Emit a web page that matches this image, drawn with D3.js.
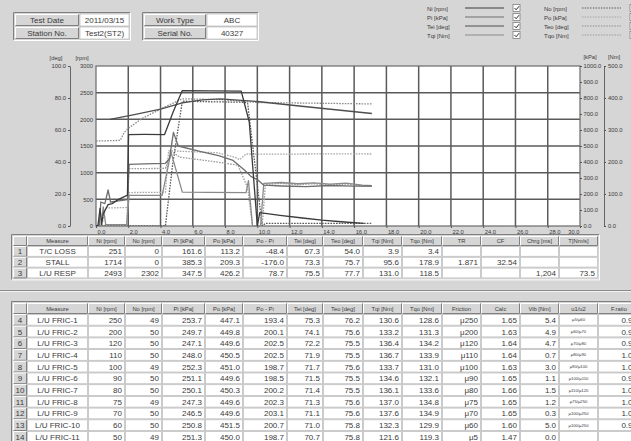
<!DOCTYPE html>
<html><head><meta charset="utf-8">
<script src="https://cdn.jsdelivr.net/npm/d3@7"></script>
<style>
html,body{margin:0;padding:0;background:#d6d6d6;overflow:hidden;}
svg{display:block;font-family:"Liberation Sans",Arial,sans-serif;}
</style></head><body>
<svg id="c" width="631" height="441"></svg>
<script>
// ---------- test information ----------
const infoLabelsA = ["Test Date", "Station No."];
const infoValuesA = ["2011/03/15", "Test2(ST2)"];
const infoLabelsB = ["Work Type", "Serial No."];
const infoValuesB = ["ABC", "40327"];

// ---------- legend ----------
const legendSolid = ["Ni [rpm]", "Pi [kPa]", "Tei [deg]", "Tqi [Nm]"];
const legendDotted = ["No [rpm]", "Po [kPa]", "Teo [deg]", "Tqo [Nm]"];

// ---------- axis ticks ----------
const timeTicks = d3.range(0, 31, 2);
const rpmTicks = [0, 500, 1000, 1500, 2000, 2500, 3000];
const degTicks = [0, 20, 40, 60, 80, 100];
const kpaTicks = [0, 100, 200, 300, 400, 500, 600, 700, 800, 900, 1000];
const nmTicks = [0, 100, 200, 300, 400, 500];

// ---------- recorded traces (time in sec) ----------
const niTime = [0, 0.12, 0.25, 0.35, 0.45, 0.75, 1.0, 1.4, 1.95, 2.02, 3.0, 4.25, 4.8, 5.35, 7.0, 9.0, 9.5, 10.0, 10.15, 11.4, 12.8, 14.0, 15.2, 16.6];
const niRpm  = [0, 0, 330, 30, 230, 400, 420, 500, 580, 1715, 1718, 1714, 2150, 2540, 2535, 2530, 1950, 0, 250, 200, 150, 110, 80, 50];

const noTime = [0, 4.3, 4.75, 5.35, 7.0, 9.2, 9.4, 10.3, 10.5, 17.1];
const noRpm  = [0, 0, 1150, 2340, 2330, 2320, 2300, 0, 50, 50];

const teiTime = [0.87, 2.3, 4.0, 5.35, 6.6, 7.7, 10.0, 12.6, 17.1];
const teiDeg  = [66.6, 69.4, 73.1, 76.9, 78.8, 79.4, 77.8, 75.0, 70.3];

const teoTime = [0, 1.5, 1.75, 2.0, 2.9, 4.4, 5.35, 7.7, 10.0, 17.1];
const teoDeg  = [53.1, 53.5, 58.5, 61.0, 67.5, 75.0, 79.5, 79.0, 77.2, 76.3];

const piTime = [0, 0.2, 0.3, 0.55, 0.75, 0.9, 1.3, 1.95, 2.05, 3.0, 4.3, 4.55, 4.8, 5.1, 6.5, 7.6, 8.5, 9.2, 9.6, 10.0, 10.4, 11.5, 13.0, 14.5, 16.0, 17.1];
const piKpa  = [0, 0, 150, 140, 225, 150, 155, 165, 385, 388, 392, 420, 585, 500, 465, 440, 410, 350, 310, 290, 255, 250, 246, 253, 249, 250];

const poTime = [0, 0.4, 0.6, 1.95, 2.05, 4.3, 4.5, 5.0, 7.5, 8.6, 8.9, 9.3, 11.0, 13.0, 15.0, 17.1];
const poKpa  = [0, 20, 113, 115, 209, 211, 470, 468, 458, 430, 415, 450, 449, 450, 451, 450];

const tqiTime = [0, 0.3, 0.45, 0.6, 1.9, 2.05, 4.1, 4.65, 5.35, 7.0, 9.3, 9.45, 9.7, 10.2, 10.4, 11.5, 12.5, 13.5, 14.5, 15.5, 16.5, 17.1];
const tqiNm   = [0, 0, 60, 5, 4, 95.6, 96, 230, 106, 105, 104, 142, 0, 0, 133, 136, 132, 135, 131, 134, 128, 126];

const tqoTime = [0, 1.9, 2.05, 4.3, 4.7, 5.2, 7.5, 8.8, 9.4, 9.7, 10.3, 10.5, 11.5, 12.5, 13.5, 14.5, 15.5, 16.5, 17.1];
const tqoNm   = [3, 3, 179, 180, 232, 215, 200, 190, 120, 0, 0, 130, 133, 129, 132, 128, 131, 125, 124];

// ---------- measurement tables ----------
const headTop = ["", "Measure", "Ni [rpm]", "No [rpm]", "Pi [kPa]", "Po [kPa]", "Po - Pi", "Tei [deg]", "Teo [deg]", "Tqi [Nm]", "Tqo [Nm]", "TR", "CF", "Chrg [ms]", "T[Nm/s]"];
const rowsTop = [
  ["1", "T/C LOSS", "251", "0", "161.6", "113.2", "-48.4", "67.3", "54.0", "3.9", "3.4", "", "", "", ""],
  ["2", "STALL", "1714", "0", "385.3", "209.3", "-176.0", "73.3", "75.7", "95.6", "178.9", "1.871", "32.54", "", ""],
  ["3", "L/U RESP", "2493", "2302", "347.5", "426.2", "78.7", "75.5", "77.7", "131.0", "118.5", "", "", "1,204", "73.5"]
];
const headFric = ["", "Measure", "Ni [rpm]", "No [rpm]", "Pi [kPa]", "Po [kPa]", "Po - Pi", "Tei [deg]", "Teo [deg]", "Tqi [Nm]", "Tqo [Nm]", "Friction", "Calc", "Vib [Nm]", "u1/u2", "F.ratio"];
const rowsFric = [
  ["4", "L/U FRIC-1", "250", "49", "253.7", "447.1", "193.4", "75.3", "76.2", "130.6", "128.6", "μ250", "1.65", "5.4", "μ5/μ60", "0.91"],
  ["5", "L/U FRIC-2", "200", "50", "249.7", "449.8", "200.1", "74.1", "75.6", "133.2", "131.3", "μ200", "1.63", "4.9", "μ60/μ70", "0.97"],
  ["6", "L/U FRIC-3", "120", "50", "247.1", "449.6", "202.5", "72.2", "75.5", "136.4", "134.2", "μ120", "1.64", "4.7", "μ70/μ80", "0.98"],
  ["7", "L/U FRIC-4", "110", "50", "248.0", "450.5", "202.5", "71.9", "75.5", "136.7", "133.9", "μ110", "1.64", "0.7", "μ80/μ90", "1.00"],
  ["8", "L/U FRIC-5", "100", "49", "252.3", "451.0", "198.7", "71.7", "75.6", "133.7", "131.0", "μ100", "1.63", "3.0", "μ90/μ100", "1.01"],
  ["9", "L/U FRIC-6", "90", "50", "251.1", "449.6", "198.5", "71.5", "75.5", "134.6", "132.1", "μ90", "1.65", "1.1", "μ100/μ110", "0.98"],
  ["10", "L/U FRIC-7", "80", "50", "250.1", "450.3", "200.2", "71.4", "75.5", "136.1", "133.6", "μ80", "1.66", "1.5", "μ110/μ120", "1.00"],
  ["11", "L/U FRIC-8", "75", "49", "247.3", "449.6", "202.3", "71.3", "75.6", "137.0", "134.8", "μ75", "1.65", "1.2", "μ75/μ250", "1.00"],
  ["12", "L/U FRIC-9", "70", "50", "246.5", "449.6", "203.1", "71.1", "75.6", "137.6", "134.9", "μ70", "1.65", "0.3", "μ100/μ250", "1.00"],
  ["13", "L/U FRIC-10", "60", "50", "250.8", "451.5", "200.7", "71.0", "75.8", "132.3", "129.9", "μ60", "1.60", "5.0", "μ100/μ250", "0.98"],
  ["14", "L/U FRIC-11", "50", "49", "251.3", "450.0", "198.7", "70.7", "75.8", "121.6", "119.3", "μ5", "1.47", "0.0", "", ""]
];

// ================= drawing =================
const svg = d3.select("#c");
const FACE = "#d6d6d6";
const INK = "#3a3a3a";

function bevel(g, x, y, w, h, fill, raised) {
  g.append("rect").attr("x", x).attr("y", y).attr("width", w).attr("height", h).attr("fill", fill);
  const hi = raised ? "#ffffff" : "#808080", lo = raised ? "#808080" : "#ffffff";
  g.append("path").attr("d", `M${x + 0.5},${y + h - 0.5}V${y + 0.5}H${x + w - 0.5}`).attr("stroke", hi).attr("fill", "none");
  g.append("path").attr("d", `M${x + 0.5},${y + h - 0.5}H${x + w - 0.5}V${y + 0.5}`).attr("stroke", lo).attr("fill", "none");
}

// ---- info boxes ----
function infoBox(x0, labelW, valueW, labels, values) {
  const g = svg.append("g");
  bevel(g, x0 - 2, 12, labelW + valueW + 5, 29, FACE, false);
  labels.forEach((lab, i) => {
    const y = 14 + i * 13;
    bevel(g, x0, y, labelW, 12, FACE, true);
    g.append("text").attr("x", x0 + labelW / 2).attr("y", y + 9).attr("text-anchor", "middle")
      .attr("font-size", 8).attr("fill", INK).text(lab);
    g.append("rect").attr("x", x0 + labelW + 1).attr("y", y).attr("width", valueW).attr("height", 12)
      .attr("fill", "#fff").attr("stroke", "#b0b0b0").attr("stroke-width", 0.6);
    g.append("text").attr("x", x0 + labelW + 1 + valueW / 2).attr("y", y + 9).attr("text-anchor", "middle")
      .attr("font-size", 8).attr("fill", INK).text(values[i]);
  });
}
infoBox(15, 64, 49, infoLabelsA, infoValuesA);
infoBox(144, 62, 50, infoLabelsB, infoValuesB);

// ---- scales ----
const P = { l: 96, r: 580, t: 66, b: 226 };
const x = d3.scaleLinear().domain([0, 30]).range([P.l, P.r]);
const yRpm = d3.scaleLinear().domain([0, 3000]).range([P.b, P.t]);
const yDeg = d3.scaleLinear().domain([0, 100]).range([P.b, P.t]);
const yKpa = d3.scaleLinear().domain([0, 1000]).range([P.b, P.t]);
const yNm = d3.scaleLinear().domain([0, 500]).range([P.b, P.t]);

// ---- legend ----
const styleSolid = ["#3a3a3a", "#6e6e6e", "#4e4e4e", "#8a8a8a"];
const styleDotted = ["#5a5a5a", "#a8a8a8", "#8c8c8c", "#9c9c9c"];
function legendColumn(names, colors, x0, dashed) {
  const g = svg.append("g");
  names.forEach((n, i) => {
    const y = 8 + i * 9;
    g.append("text").attr("x", x0).attr("y", y + 2.5).attr("font-size", 6).attr("fill", INK).text(n);
    g.append("line").attr("x1", x0 + 38).attr("x2", x0 + 77).attr("y1", y).attr("y2", y)
      .attr("stroke", colors[i]).attr("stroke-width", 1)
      .attr("stroke-dasharray", dashed ? "1.5,1.2" : null);
    const cx = x0 + 86;
    g.append("rect").attr("x", cx).attr("y", y - 3.5).attr("width", 7).attr("height", 7)
      .attr("fill", "#fff").attr("stroke", "#808080").attr("stroke-width", 0.8);
    g.append("path").attr("d", `M${cx + 1.5},${y}l1.7,1.8l2.8,-3.6`).attr("fill", "none")
      .attr("stroke", "#333").attr("stroke-width", 1);
  });
}
legendColumn(legendSolid, styleSolid, 427, false);
legendColumn(legendDotted, styleDotted, 544, true);

// ---- plot area ----
svg.append("rect").attr("x", P.l).attr("y", P.t).attr("width", P.r - P.l).attr("height", P.b - P.t).attr("fill", "#fff");
const grid = svg.append("g").attr("stroke", "#5a5a5a").attr("stroke-width", 1.5);
grid.selectAll("line.v").data(timeTicks.slice(1, -1)).join("line").attr("class", "v")
  .attr("x1", d => x(d)).attr("x2", d => x(d)).attr("y1", P.t).attr("y2", P.b);
grid.selectAll("line.h").data(rpmTicks.slice(1, -1)).join("line").attr("class", "h")
  .attr("x1", P.l).attr("x2", P.r).attr("y1", d => yRpm(d)).attr("y2", d => yRpm(d));
svg.append("rect").attr("x", P.l).attr("y", P.t).attr("width", P.r - P.l).attr("height", P.b - P.t)
  .attr("fill", "none").attr("stroke", "#6a6a6a").attr("stroke-width", 1.2);

// ---- traces ----
svg.append("clipPath").attr("id", "pc").append("rect")
  .attr("x", P.l).attr("y", P.t - 1).attr("width", P.r - P.l).attr("height", P.b - P.t + 1);
const traces = [
  { t: tqoTime, v: tqoNm, y: yNm, c: styleDotted[3], dash: true },
  { t: poTime, v: poKpa, y: yKpa, c: styleDotted[1], dash: true },
  { t: teoTime, v: teoDeg, y: yDeg, c: styleDotted[2], dash: true },
  { t: noTime, v: noRpm, y: yRpm, c: styleDotted[0], dash: true },
  { t: tqiTime, v: tqiNm, y: yNm, c: styleSolid[3], dash: false },
  { t: piTime, v: piKpa, y: yKpa, c: styleSolid[1], dash: false },
  { t: teiTime, v: teiDeg, y: yDeg, c: styleSolid[2], dash: false },
  { t: niTime, v: niRpm, y: yRpm, c: styleSolid[0], dash: false }
];
const lg = svg.append("g").attr("clip-path", "url(#pc)");
traces.forEach(s => {
  const pts = s.t.map((t, i) => [t, s.v[i]]);
  const line = d3.line().x(d => x(d[0])).y(d => s.y(d[1]));
  lg.append("path").attr("d", line(pts)).attr("fill", "none").attr("stroke", s.c)
    .attr("stroke-width", 1.3).attr("stroke-linejoin", "round")
    .attr("stroke-dasharray", s.dash ? "1.6,1.2" : null);
});

// ---- axes ----
const fmt1 = d3.format(".1f");
function styleAxis(g, showDomain) {
  g.selectAll("text").attr("font-size", 5.8).attr("fill", INK).attr("font-family", "Liberation Sans, Arial, sans-serif");
  g.selectAll(".tick line").attr("stroke", "#555");
  g.select(".domain").attr("stroke", showDomain ? "#666" : "none");
}
const aDeg = svg.append("g").attr("transform", "translate(70,0)")
  .call(d3.axisLeft(yDeg).tickValues(degTicks).tickFormat(fmt1).tickSize(2).tickSizeOuter(0).tickPadding(2));
styleAxis(aDeg, true);
const aRpm = svg.append("g").attr("transform", `translate(${P.l},0)`)
  .call(d3.axisLeft(yRpm).tickValues(rpmTicks).tickFormat(d3.format("d")).tickSize(0).tickPadding(3));
styleAxis(aRpm, false);
const aKpa = svg.append("g").attr("transform", `translate(${P.r},0)`)
  .call(d3.axisRight(yKpa).tickValues(kpaTicks).tickFormat(fmt1).tickSize(2).tickSizeOuter(0).tickPadding(1.5));
styleAxis(aKpa, false);
const aNm = svg.append("g").attr("transform", "translate(604,0)")
  .call(d3.axisRight(yNm).tickValues(nmTicks).tickFormat(fmt1).tickSize(2).tickSizeOuter(0).tickPadding(2));
styleAxis(aNm, true);
const aTime = svg.append("g").attr("transform", `translate(0,${P.b})`)
  .call(d3.axisBottom(x).tickValues(timeTicks).tickFormat(fmt1).tickSize(2).tickSizeOuter(0).tickPadding(2));
styleAxis(aTime, false);
aTime.selectAll(".tick text").attr("text-anchor", (d, i) => i === timeTicks.length - 1 ? "end" : "start")
  .attr("dx", (d, i) => i === timeTicks.length - 1 ? "-1" : "1");

// axis units
const units = [["[deg]", 56, 60], ["[rpm]", 82, 60], ["[kPa]", 590, 59], ["[Nm]", 614, 59]];
svg.selectAll("text.unit").data(units).join("text").attr("class", "unit")
  .attr("x", d => d[1]).attr("y", d => d[2]).attr("text-anchor", "middle")
  .attr("font-size", 5.8).attr("fill", INK).text(d => d[0]);
svg.append("text").attr("x", 589).attr("y", 238).attr("text-anchor", "middle")
  .attr("font-size", 5.8).attr("fill", INK).text("[sec]");

// ---- tables ----
const colsTop = [13, 27, 88, 125, 162, 205, 243, 287, 323, 363, 402, 442, 481, 520, 559, 598];
const colsFric = colsTop.concat([640]);

function table(heads, rows, cols, top, headH, rowH) {
  const g = svg.append("g");
  const right = Math.min(cols[cols.length - 1], 640);
  bevel(g, cols[0] - 2, top - 2, right - cols[0] + 4, headH + rows.length * rowH + 4, FACE, false);
  heads.forEach((h, i) => {
    const x0 = cols[i], w = cols[i + 1] - cols[i];
    bevel(g, x0, top, w, headH, FACE, true);
    g.append("text").attr("x", x0 + w / 2).attr("y", top + headH / 2 + 2.2).attr("text-anchor", "middle")
      .attr("font-size", 5.8).attr("fill", INK).text(h);
  });
  rows.forEach((r, ri) => {
    const y0 = top + headH + ri * rowH;
    r.forEach((v, ci) => {
      const x0 = cols[ci], w = cols[ci + 1] - cols[ci];
      if (ci === 0) {
        bevel(g, x0, y0, w, rowH, FACE, true);
      } else {
        g.append("rect").attr("x", x0 + 0.5).attr("y", y0 + 0.5).attr("width", w - 1).attr("height", rowH - 1)
          .attr("fill", "#fff").attr("stroke", "#c4c4c4").attr("stroke-width", 0.8);
      }
      const small = heads[ci] === "u1/u2";
      const anchor = ci <= 1 || small ? "middle" : "end";
      const tx = anchor === "middle" ? x0 + w / 2 : x0 + w - 3;
      g.append("text").attr("x", tx).attr("y", y0 + rowH / 2 + (small ? 1.5 : 3))
        .attr("text-anchor", anchor).attr("font-size", small ? 4.2 : 8).attr("fill", INK).text(v);
    });
  });
}
table(headTop, rowsTop, colsTop, 236, 10, 10.8);
// splitter between the two panels
svg.append("line").attr("x1", 0).attr("x2", 631).attr("y1", 290.5).attr("y2", 290.5).attr("stroke", "#8a8a8a");
svg.append("line").attr("x1", 0).attr("x2", 631).attr("y1", 291.5).attr("y2", 291.5).attr("stroke", "#f2f2f2");
table(headFric, rowsFric, colsFric, 303, 11, 11.7);
</script>
</body></html>
